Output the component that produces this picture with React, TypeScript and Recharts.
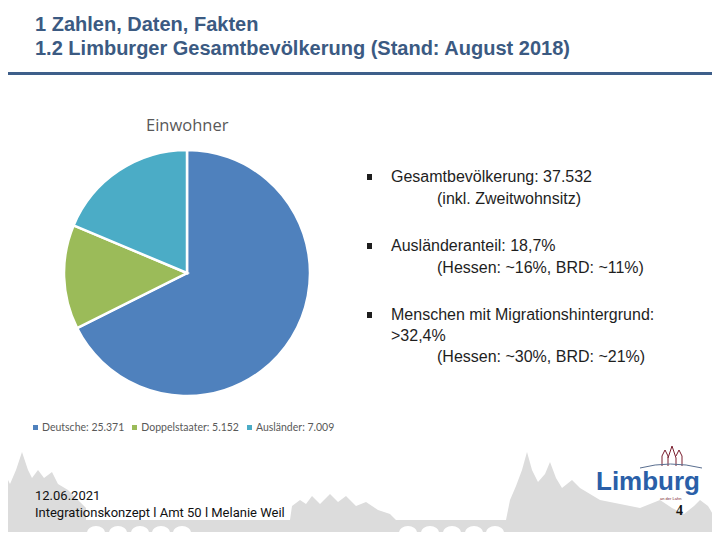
import React from "react";
import { PieChart, Pie, Cell, Legend } from "recharts";

const categories = ["Deutsche", "Doppelstaater", "Ausländer"];
const residents = [25371, 5152, 7009];
const sliceColors = ["#4F81BD", "#9BBB59", "#4BACC6"];

const titleLines = [
  "1 Zahlen, Daten, Fakten",
  "1.2 Limburger Gesamtbevölkerung (Stand: August 2018)",
];

const bullets = [
  { main: ["Gesamtbevölkerung: 37.532"], sub: "(inkl. Zweitwohnsitz)" },
  { main: ["Ausländeranteil: 18,7%"], sub: "(Hessen: ~16%, BRD: ~11%)" },
  {
    main: ["Menschen mit Migrationshintergrund:", ">32,4%"],
    sub: "(Hessen: ~30%, BRD: ~21%)",
  },
];

const footerLines = ["12.06.2021", "Integrationskonzept l Amt 50 l Melanie Weil"];
const pageNumber = "4";

const data = categories.map((name, i) => ({ name, value: residents[i] }));

const fmt = (n: number) => String(n).replace(/\B(?=(\d{3})+(?!\d))/g, ".");

const titleColor = "#3B5A82";

// grey town silhouette behind the footer
const skyline =
  "M0,540 L0,482 L6,476 L10,484 L16,470 L22,452 L28,470 L32,478 L38,470 L44,478 L52,472 L58,484 L68,490 L78,500 L86,508 L86,520 L290,520 L292,506 L300,500 L306,504 L312,496 L320,504 L330,494 L338,502 L346,496 L356,506 L366,502 L378,510 L390,514 L396,520 L506,520 L510,500 L516,486 L522,470 L527,452 L532,470 L538,482 L545,474 L550,462 L556,478 L562,488 L572,480 L580,488 L590,494 L600,500 L620,504 L640,508 L660,500 L672,508 L684,514 L694,506 L700,500 L708,506 L714,516 L720,518 L720,540 Z";
const archCenters = [96, 118, 140, 161, 182, 408, 430, 452, 474, 495];

const LegendContent = (props: any) => {
  const items = [...(props.payload || [])].sort(
    (a: any, b: any) => categories.indexOf(a.value) - categories.indexOf(b.value)
  );
  return (
    <div
      style={{
        display: "flex",
        alignItems: "center",
        fontFamily: "Lato, sans-serif",
        fontSize: 10.5,
        color: "#595959",
      }}
    >
      {items.map((it: any) => (
        <span
          key={it.value}
          style={{ display: "inline-flex", alignItems: "center", marginRight: 8 }}
        >
          <span
            style={{
              width: 5,
              height: 5,
              background: it.color,
              marginRight: 4,
              display: "inline-block",
            }}
          />
          {it.value}: {fmt(it.payload.value)}
        </span>
      ))}
    </div>
  );
};

const App: React.FC = () => (
  <div
    style={{
      position: "relative",
      width: 720,
      height: 540,
      margin: -8,
      background: "#fff",
      overflow: "hidden",
      fontFamily: "'Liberation Sans', Arial, sans-serif",
    }}
  >
    <svg
      width={720}
      height={540}
      style={{ position: "absolute", left: 0, top: 0 }}
    >
      <path d={skyline} fill="#DCDCDC" />
      {archCenters.map((x) => (
        <path
          key={x}
          d={`M${x - 9},540 L${x - 9},533 A9,7 0 0 1 ${x + 9},533 L${x + 9},540 Z`}
          fill="#fff"
        />
      ))}
      {/* small cathedral + bridge above the logo */}
      <path
        d="M662,466 L662,456 L665,450 L668,456 L668,466 M668,458 L672,446 L676,458 L676,466 M676,456 L679,450 L682,456 L682,466"
        fill="none"
        stroke="#7A1E2E"
        strokeWidth={1}
      />
      <path
        d="M640,468 Q670,460 702,468"
        fill="none"
        stroke="#5A6F90"
        strokeWidth={1}
      />
    </svg>

    <div
      style={{
        position: "absolute",
        left: 35,
        top: 12,
        fontWeight: "bold",
        fontSize: 20,
        lineHeight: "24px",
        color: titleColor,
      }}
    >
      {titleLines.map((t) => (
        <div key={t}>{t}</div>
      ))}
    </div>
    <div
      style={{
        position: "absolute",
        left: 0,
        top: 72,
        width: 720,
        height: 3,
        background: "#3E5F8A",
      }}
    />

    <div
      style={{
        position: "absolute",
        left: 146,
        top: 113,
        fontFamily: "'Open Sans', sans-serif",
        fontSize: 16.5,
        color: "#595959",
      }}
    >
      Einwohner
    </div>

    <div style={{ position: "absolute", left: 0, top: 0 }}>
      <PieChart
        width={720}
        height={540}
        margin={{ top: 0, right: 0, bottom: 0, left: 0 }}
      >
        <Pie
          data={data}
          dataKey="value"
          nameKey="name"
          cx={187}
          cy={273}
          outerRadius={123}
          startAngle={90}
          endAngle={-270}
          stroke="#fff"
          strokeWidth={2.5}
          isAnimationActive={false}
        >
          {data.map((d, i) => (
            <Cell key={d.name} fill={sliceColors[i]} />
          ))}
        </Pie>
        <Legend
          verticalAlign="bottom"
          content={LegendContent}
          wrapperStyle={{
            position: "absolute",
            left: 33,
            top: 421,
            bottom: "auto",
            width: 400,
          }}
        />
      </PieChart>
    </div>

    <div
      style={{
        position: "absolute",
        left: 367,
        top: 166,
        fontSize: 16,
        color: "#1E1E1E",
        lineHeight: "22px",
      }}
    >
      {bullets.map((b, i) => (
        <div key={i} style={{ position: "relative", marginBottom: 25 }}>
          <span
            style={{
              position: "absolute",
              left: 0,
              top: 8,
              width: 5,
              height: 6,
              background: "#1E1E1E",
            }}
          />
          {b.main.map((m, j) => (
            <div
              key={m}
              style={{ paddingLeft: 24, lineHeight: j > 0 ? "20px" : "22px" }}
            >
              {m}
            </div>
          ))}
          <div style={{ paddingLeft: 70 }}>{b.sub}</div>
        </div>
      ))}
    </div>

    <div
      style={{
        position: "absolute",
        left: 35,
        top: 487,
        fontFamily: "'Liberation Sans Narrow', 'Roboto', sans-serif",
        fontSize: 13,
        lineHeight: "17px",
        color: "#111",
      }}
    >
      {footerLines.map((t) => (
        <div key={t}>{t}</div>
      ))}
    </div>
    <div
      style={{
        position: "absolute",
        left: 676,
        top: 503,
        fontFamily: "'Liberation Serif', serif",
        fontWeight: "bold",
        fontSize: 14,
        color: "#111",
      }}
    >
      {pageNumber}
    </div>
    <div
      style={{
        position: "absolute",
        left: 596,
        top: 468,
        fontWeight: "bold",
        fontSize: 26,
        lineHeight: "26px",
        color: "#2A5FA8",
      }}
    >
      Limburg
    </div>
    <div
      style={{
        position: "absolute",
        left: 660,
        top: 496,
        fontSize: 4,
        lineHeight: "5px",
        color: "#7A1E2E",
      }}
    >
      an der Lahn
    </div>
  </div>
);

export default App;
